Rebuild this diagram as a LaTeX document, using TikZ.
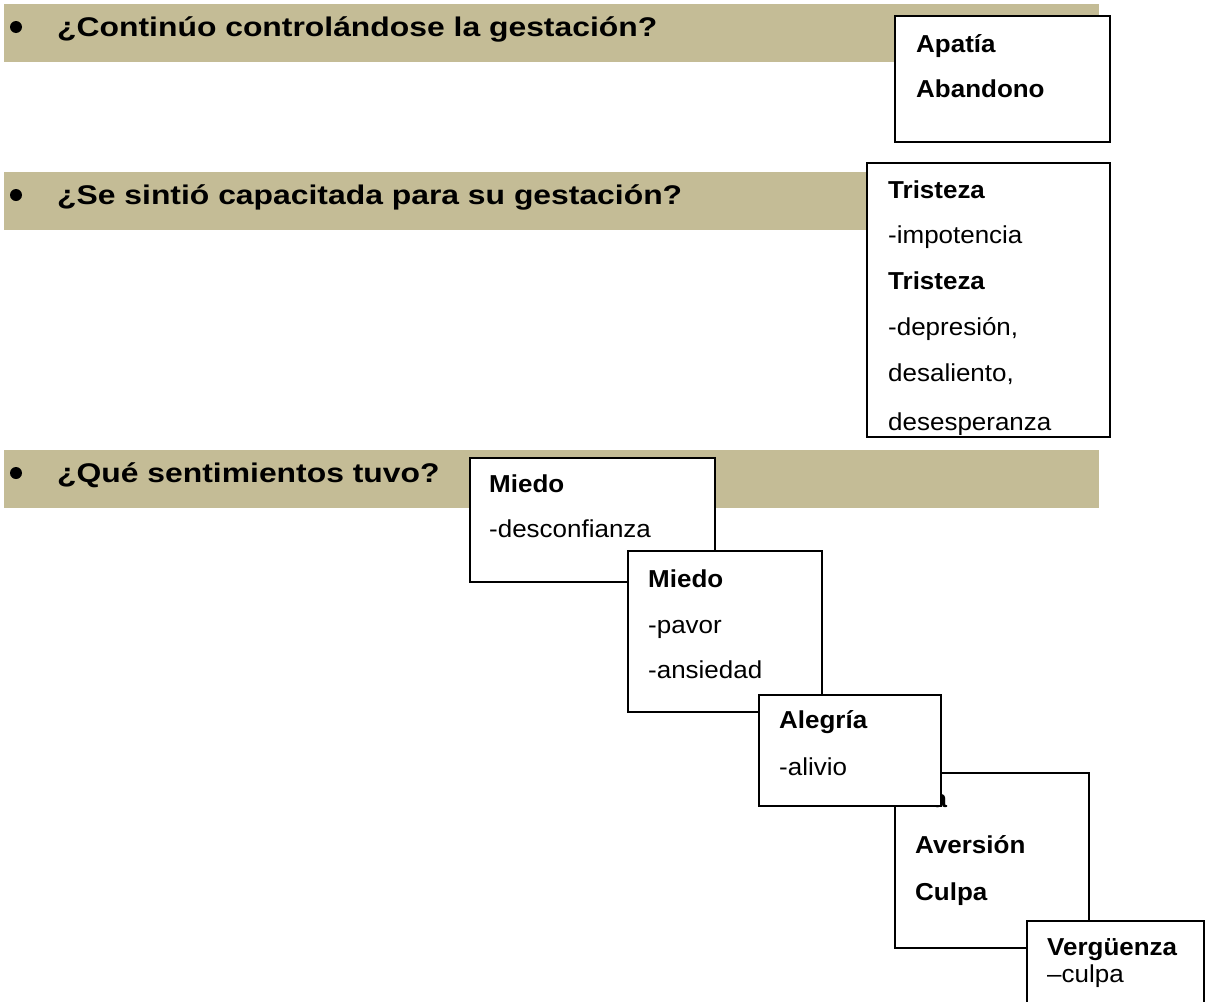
\documentclass[tikz,border=0pt]{standalone}
\usepackage{fontspec}
\setmainfont{Liberation Sans}
\newfontfamily\qfont[FakeStretch=1.18]{Liberation Sans}
\newfontfamily\bfont[FakeStretch=1.06]{Liberation Sans}
\definecolor{tanfondo}{HTML}{C4BC96}

\begin{document}
\begin{tikzpicture}[x=1pt,y=-1pt,
    vineta/.style={circle,fill=black,inner sep=0pt,minimum size=12pt},
    pregunta/.style={anchor=base west,inner sep=0pt,font=\qfont\fontsize{27}{32}\selectfont\bfseries},
    caja/.style={draw,fill=white,line width=1.8pt,anchor=north west,inner sep=0pt},
    linea/.style={anchor=base west,inner sep=0pt,font=\bfont\fontsize{24.5}{30}\selectfont},
    titulo/.style={anchor=base west,inner sep=0pt,font=\bfont\fontsize{24.5}{30}\selectfont\bfseries}]
    \useasboundingbox (0,0) rectangle (1209,1001);
    % primera pregunta
    \fill[tanfondo] (4,4) rectangle (1099,62);
    \node[vineta] (b1) at (16,27) {};
    \node[pregunta] (q1) at (57,36) {¿Continúo controlándose la gestación?};
    \node[caja,line width=2.4pt,minimum width=215pt,minimum height=126pt] (cajaA) at (894,15) {};
    \node[titulo] (apatia) at (916,52) {Apatía};
    \node[titulo] (abandono) at (916,97) {Abandono};
    % segunda pregunta
    \fill[tanfondo] (4,172) rectangle (1099,230);
    \node[vineta] (b2) at (16,195) {};
    \node[pregunta] (q2) at (57,204) {¿Se sintió capacitada para su gestación?};
    \node[caja,minimum width=243pt,minimum height=274pt] (cajaT) at (866,162) {};
    \begin{scope}
        \clip (866,162) rectangle (1109,434);
        \node[titulo] (tris1) at (888,198) {Tristeza};
        \node[linea] (impot) at (888,243) {-impotencia};
        \node[titulo] (tris2) at (888,289) {Tristeza};
        \node[linea] (depre) at (888,335) {-depresión,};
        \node[linea] (desal) at (888,381) {desaliento,};
        \node[linea] (deses) at (888,430) {desesperanza};
    \end{scope}
    % tercera pregunta
    \fill[tanfondo] (4,450) rectangle (1099,508);
    \node[vineta] (b3) at (16,473) {};
    \node[pregunta] (q3) at (57,482) {¿Qué sentimientos tuvo?};
    \node[caja,minimum width=245pt,minimum height=124pt] (cajaM1) at (469,457) {};
    \node[titulo] (miedo1) at (489,492) {Miedo};
    \node[linea] (descon) at (489,537) {-desconfianza};
    \node[caja,minimum width=194pt,minimum height=161pt] (cajaM2) at (627,550) {};
    \node[titulo] (miedo2) at (648,587) {Miedo};
    \node[linea] (pavor) at (648,633) {-pavor};
    \node[linea] (ansie) at (648,678) {-ansiedad};
    \node[caja,minimum width=194pt,minimum height=175pt] (cajaAv) at (894,772) {};
    \node[titulo] (ira) at (915,807) {Ira};
    \node[titulo] (avers) at (915,853) {Aversión};
    \node[titulo] (culpa) at (915,900) {Culpa};
    \node[caja,minimum width=182pt,minimum height=111pt] (cajaAl) at (758,694) {};
    \node[titulo] (alegria) at (779,728) {Alegría};
    \node[linea] (alivio) at (779,775) {-alivio};
    \node[caja,minimum width=177pt,minimum height=100pt] (cajaV) at (1026,920) {};
    \node[titulo] (vergu) at (1047,955) {Vergüenza};
    \node[linea] (culpa2) at (1047,982) {–culpa};
\end{tikzpicture}
\end{document}
